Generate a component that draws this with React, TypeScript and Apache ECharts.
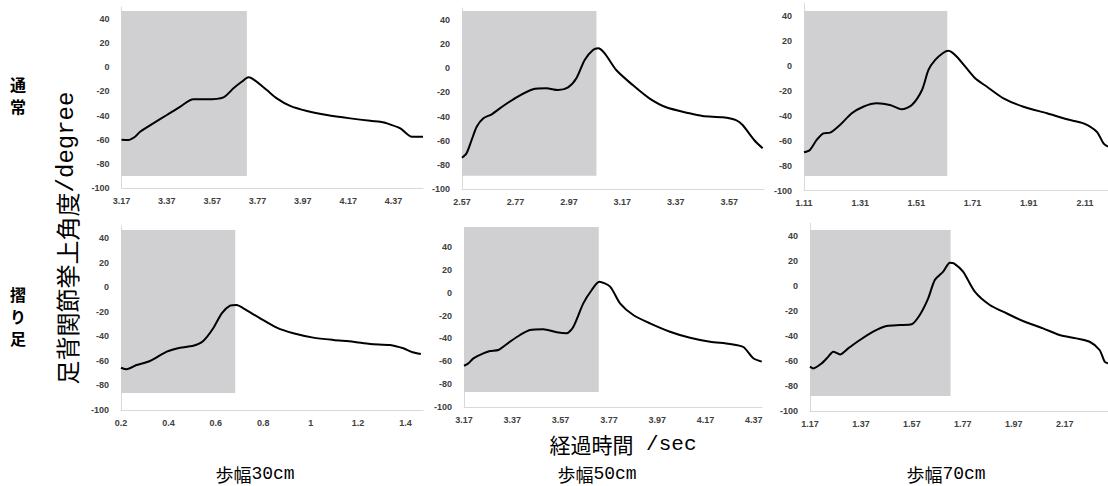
import React, { useEffect, useRef } from 'react';
import * as echarts from 'echarts';

// ---- data ----
const ROW_LABELS = ['通常', '摺り足'];
const COL_LABELS = ['歩幅30cm', '歩幅50cm', '歩幅70cm'];
const Y_TITLE_CJK = '足背関節挙上角度';
const Y_TITLE_UNIT = '/degree';
const X_TITLE_CJK = '経過時間';
const X_TITLE_UNIT = ' /sec';

const X_START = [3.17, 2.57, 1.11, 0.2, 3.17, 1.17];
const X_END = [4.5, 3.7, 2.192, 1.474, 4.404, 2.34];
const SHADE_END = [3.723, 3.073, 1.62, 0.682, 3.728, 1.722];
const SHADE_TOP = [46.6, 47.5, 43.8, 46.5, 57.5, 44.8];
const SHADE_BOTTOM = [-90, -89, -88.2, -86.2, -86.9, -88];
const Y_MIN = -100;
const Y_MAX = 50;
const Y_STEP = 20;
const X_STEP = 0.2;

const t1 = [3.17, 3.2, 3.23, 3.252, 3.31, 3.37, 3.428, 3.487, 3.546, 3.62, 3.664, 3.7, 3.73, 3.752, 3.811, 3.855, 3.914, 3.988, 4.076, 4.179, 4.267, 4.311, 4.333, 4.4, 4.451, 4.5];
const a1 = [-60, -60.2, -57.5, -53.4, -46.4, -39.5, -32.7, -26.5, -26.5, -24.9, -17.4, -12, -8.3, -10, -18.8, -25.7, -32, -36.2, -39.5, -42.3, -44.3, -45, -45.9, -50.6, -57.5, -57.5];

const t2 = [2.57, 2.587, 2.606, 2.625, 2.65, 2.681, 2.724, 2.774, 2.836, 2.886, 2.929, 2.967, 2.998, 3.029, 3.06, 3.079, 3.104, 3.147, 3.209, 3.271, 3.334, 3.421, 3.47, 3.545, 3.595, 3.62, 3.663, 3.695];
const a2 = [-74.1, -70.4, -59.4, -48.4, -41.4, -38.1, -31.2, -24, -17.4, -16.6, -18, -15.8, -8.3, 6.9, 15.1, 16.6, 12.4, -1.4, -13.9, -24.9, -32.3, -37.3, -39.5, -40.6, -42.9, -47, -59.4, -66.3];

const t3 = [1.11, 1.131, 1.155, 1.179, 1.203, 1.238, 1.28, 1.321, 1.369, 1.416, 1.458, 1.494, 1.53, 1.553, 1.577, 1.606, 1.624, 1.654, 1.719, 1.761, 1.82, 1.891, 1.975, 2.046, 2.105, 2.152, 2.176, 2.192];
const a3 = [-69.3, -67.4, -59.4, -54.1, -53.6, -47.4, -38.1, -32.8, -30.1, -31.4, -34.9, -31.4, -19.4, -3.4, 4.6, 10.4, 12, 7.2, -10.1, -16.8, -26.1, -32.8, -38.1, -42.9, -46.1, -52.8, -62.1, -64.8];

const t4 = [0.2, 0.224, 0.266, 0.322, 0.393, 0.449, 0.505, 0.547, 0.589, 0.625, 0.66, 0.688, 0.716, 0.787, 0.857, 0.927, 1.011, 1.096, 1.18, 1.251, 1.335, 1.391, 1.43, 1.465];
const a4 = [-65.6, -66.9, -63.4, -60.1, -52.5, -49.3, -47.7, -43.8, -33.5, -21.3, -15.1, -14.5, -17.2, -25.4, -33, -37.6, -41.1, -43, -44.4, -46.3, -47.1, -49.8, -53, -54.5];

const t5 = [3.17, 3.188, 3.209, 3.25, 3.278, 3.312, 3.36, 3.402, 3.443, 3.498, 3.554, 3.595, 3.623, 3.664, 3.699, 3.73, 3.775, 3.816, 3.871, 3.94, 4.023, 4.106, 4.189, 4.271, 4.327, 4.368, 4.403];
const a5 = [-63.9, -61.8, -57.4, -53, -51, -50.1, -42.9, -37, -32.6, -32, -34.6, -35.5, -29.7, -9.3, 2.4, 9.6, 5.3, -9.3, -19.5, -26.8, -34.1, -39.4, -42.9, -44.8, -47.5, -57.4, -60.3];

const t6 = [1.17, 1.183, 1.216, 1.242, 1.261, 1.288, 1.32, 1.366, 1.418, 1.471, 1.523, 1.569, 1.601, 1.634, 1.66, 1.693, 1.719, 1.735, 1.771, 1.817, 1.876, 1.941, 2.006, 2.085, 2.15, 2.216, 2.268, 2.307, 2.327, 2.34];
const a6 = [-64.5, -65.9, -61.9, -56.5, -52.5, -54.7, -49.9, -43.2, -36.5, -32, -31.2, -30.6, -23.2, -9.9, 4.8, 11.5, 18.7, 18.1, 11.5, -4.5, -15.2, -21.8, -28, -33.9, -39.2, -41.9, -44.6, -51.2, -60.6, -61.8];

const TIMES = [t1, t2, t3, t4, t5, t6];
const ANGLES = [a1, a2, a3, a4, a5, a6];

// ---- layout ----
const GRIDS = [
  { left: 121.5, top: 7, width: 301.5, height: 181 },
  { left: 462, top: 8, width: 302, height: 181 },
  { left: 804, top: 3.2, width: 304, height: 187.5 },
  { left: 121, top: 225.7, width: 302, height: 184.3 },
  { left: 464, top: 235.6, width: 298, height: 171.4 },
  { left: 810, top: 223.5, width: 298, height: 187.5 },
];
const ROW_LABEL_POS = [
  { x: 18, y: 95 },
  { x: 18, y: 316 },
];
const ROW_CHAR_STEP = 22;
const COL_LABEL_X = [255, 597, 946];
const COL_LABEL_Y = 474;
const X_TITLE_POS = { x: 623, y: 444 };

const LABEL_STYLE = {
  fontSize: 9,
  fontWeight: 'bold' as const,
  fontFamily: 'Liberation Sans, Arial, sans-serif',
  color: '#404040',
};

const fmt = (v: number) => String(parseFloat(v.toFixed(2)));

export default function App() {
  const ref = useRef<HTMLDivElement>(null);
  useEffect(() => {
    if (!ref.current) return;
    const chart = echarts.init(ref.current, undefined, { renderer: 'svg' });
    const grids = GRIDS.map((g) => ({ ...g, containLabel: false }));
    const axisLine = { show: true, onZero: false, lineStyle: { color: '#d9d9d9', width: 1 } };
    const xAxes = X_START.map((s, i) => ({
      type: 'value',
      gridIndex: i,
      min: 0,
      max: parseFloat((X_END[i] - s).toFixed(4)),
      interval: X_STEP,
      axisLine,
      axisTick: { show: false },
      splitLine: { show: false },
      axisLabel: {
        ...LABEL_STYLE,
        margin: 8,
        showMaxLabel: false,
        formatter: (v: number) => fmt(v + s),
      },
    }));
    const yAxes = X_START.map((_, i) => ({
      type: 'value',
      gridIndex: i,
      min: Y_MIN,
      max: Y_MAX,
      interval: Y_STEP,
      axisLine,
      axisTick: { show: false },
      splitLine: { show: false },
      axisLabel: { ...LABEL_STYLE, margin: 12, showMaxLabel: false },
    }));
    const shadeSeries = X_START.map((s, i) => ({
      type: 'custom',
      xAxisIndex: i,
      yAxisIndex: i,
      clip: false,
      silent: true,
      z: 1,
      encode: { x: [0, 2], y: [1, 3] },
      data: [[0, SHADE_BOTTOM[i], SHADE_END[i] - s, SHADE_TOP[i]]],
      renderItem: (_p: any, api: any) => {
        const p0 = api.coord([api.value(0), api.value(1)]);
        const p1 = api.coord([api.value(2), api.value(3)]);
        return {
          type: 'rect',
          shape: { x: p0[0], y: p1[1], width: p1[0] - p0[0], height: p0[1] - p1[1] },
          style: { fill: '#d0cfd1' },
        };
      },
    }));
    const lineSeries = TIMES.map((ts, i) => ({
      type: 'line',
      xAxisIndex: i,
      yAxisIndex: i,
      showSymbol: false,
      smooth: 0.25,
      z: 3,
      lineStyle: { color: '#000', width: 2 },
      data: ts.map((t, k) => [t - X_START[i], ANGLES[i][k]]),
    }));

    const cjkFont = '"Noto Sans CJK JP", sans-serif';
    const monoFont = '"Liberation Mono", monospace';

    const rowChars: any[] = [];
    ROW_LABELS.forEach((lab, r) => {
      const chars = lab.split('');
      const n = chars.length;
      chars.forEach((ch, k) => {
        rowChars.push({
          type: 'text',
          x: ROW_LABEL_POS[r].x,
          y: ROW_LABEL_POS[r].y + (k - (n - 1) / 2) * ROW_CHAR_STEP,
          style: {
            text: ch,
            align: 'center',
            verticalAlign: 'middle',
            fontSize: 16,
            lineHeight: 16,
            fontWeight: 'bold',
            fontFamily: cjkFont,
            fill: '#000',
          },
        });
      });
    });

    const graphics: any[] = [
      {
        type: 'text',
        x: 66,
        y: 238,
        rotation: Math.PI / 2,
        style: {
          text: `{a|${Y_TITLE_CJK}}{b|${Y_TITLE_UNIT}}`,
          align: 'center',
          verticalAlign: 'middle',
          rich: {
            a: { fontSize: 24, fontFamily: cjkFont, fill: '#000' },
            b: { fontSize: 24, fontFamily: monoFont, fill: '#000' },
          },
        },
      },
      ...rowChars,
      {
        type: 'text',
        x: X_TITLE_POS.x,
        y: X_TITLE_POS.y,
        style: {
          text: `{a|${X_TITLE_CJK}}{b|${X_TITLE_UNIT}}`,
          align: 'center',
          verticalAlign: 'middle',
          rich: {
            a: { fontSize: 21, lineHeight: 22, fontFamily: cjkFont, fill: '#000' },
            b: { fontSize: 21, lineHeight: 22, fontFamily: monoFont, fill: '#000' },
          },
        },
      },
      ...COL_LABELS.map((lab, i) => {
        const m = lab.match(/^([^0-9]+)(.*)$/) || [lab, lab, ''];
        return {
          type: 'text',
          x: COL_LABEL_X[i],
          y: COL_LABEL_Y,
          style: {
            text: `{a|${m[1]}}{b|${m[2]}}`,
            align: 'center',
            verticalAlign: 'middle',
            rich: {
              a: { fontSize: 18, lineHeight: 19, fontFamily: cjkFont, fill: '#000' },
              b: { fontSize: 18, lineHeight: 19, fontFamily: monoFont, fill: '#000' },
            },
          },
        };
      }),
    ];

    chart.setOption({
      animation: false,
      backgroundColor: '#fff',
      grid: grids,
      xAxis: xAxes,
      yAxis: yAxes,
      series: [...shadeSeries, ...lineSeries],
      graphic: graphics,
    });
    return () => chart.dispose();
  }, []);
  return (
    <div
      ref={ref}
      style={{ position: 'absolute', left: 0, top: 0, width: 1108, height: 486 }}
    />
  );
}
